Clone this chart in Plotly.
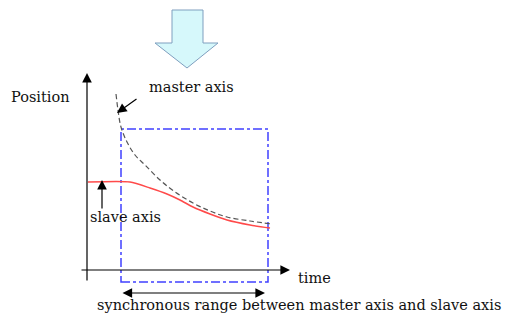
import plotly.graph_objects as go

# Curves (time, position) in diagram units
master_time = [29, 31, 34, 40, 48, 58, 73, 88, 106, 123, 140, 163, 185]
master_pos = [176, 160, 143, 128, 115, 105, 90, 78, 67, 59, 53, 49, 46]
slave_time = [1, 43, 63, 80, 93, 106, 123, 140, 163, 183]
slave_pos = [88, 88, 82, 76, 70, 63, 56, 50, 45, 42]

sync_start, sync_end = 34, 181
box_top, box_bottom = 141, -12

FONT = "DejaVu Serif"

fig = go.Figure()
fig.add_trace(go.Scatter(x=master_time, y=master_pos, mode="lines",
                         line=dict(color="#555555", width=1.2, dash="5px,3px", shape="spline"),
                         hoverinfo="skip"))
fig.add_trace(go.Scatter(x=slave_time, y=slave_pos, mode="lines",
                         line=dict(color="#ff4a4a", width=1.5, shape="spline", smoothing=0.6),
                         hoverinfo="skip"))

shapes = []
shapes.append(dict(type="rect", x0=sync_start, x1=sync_end, y0=box_bottom, y1=box_top,
                   line=dict(color="#4040ff", width=1.5, dash="dashdot"), layer="below"))
shapes.append(dict(type="path",
                   path="M 85 260 L 116 260 L 116 227 L 131 227 L 100 202 L 68 227 L 85 227 Z",
                   fillcolor="#d6f8fb", line=dict(color="#7f9fbf", width=1)))
fig.update_layout(shapes=shapes)

ann = []
def arrow(x0, y0, x1, y1, side="end"):
    ann.append(dict(x=x1, y=y1, ax=x0, ay=y0, xref="x", yref="y", axref="x", ayref="y",
                    showarrow=True, arrowhead=2, arrowsize=1.6, arrowwidth=1.2,
                    arrowcolor="black", arrowside=side, text=""))
arrow(0, -12, 0, 197)
arrow(-7, 0, 203, 0)
arrow(51, 172, 30, 157)
arrow(15, 60, 15, 90)
arrow(sync_start, -23, 178, -23, side="end+start")

def text(x, y, s, size=14.5):
    ann.append(dict(x=x, y=y, xref="x", yref="y", text=s, showarrow=False,
                    xanchor="left", yanchor="middle",
                    font=dict(family=FONT, size=size, color="#111111")))
text(-78, 173, "Position")
text(60, 183, "master axis")
text(1, 53, "slave axis")
text(209, -8, "time")
text(8, -35, "synchronous range between master axis and slave axis")
fig.update_layout(annotations=ann)

fig.update_layout(
    width=505, height=307, margin=dict(l=0, r=0, t=0, b=0),
    paper_bgcolor="white", plot_bgcolor="white", showlegend=False,
    xaxis=dict(range=[-79, 426], visible=False, fixedrange=True),
    yaxis=dict(range=[-45, 262], visible=False, fixedrange=True),
)
fig.write_html("out.html")
